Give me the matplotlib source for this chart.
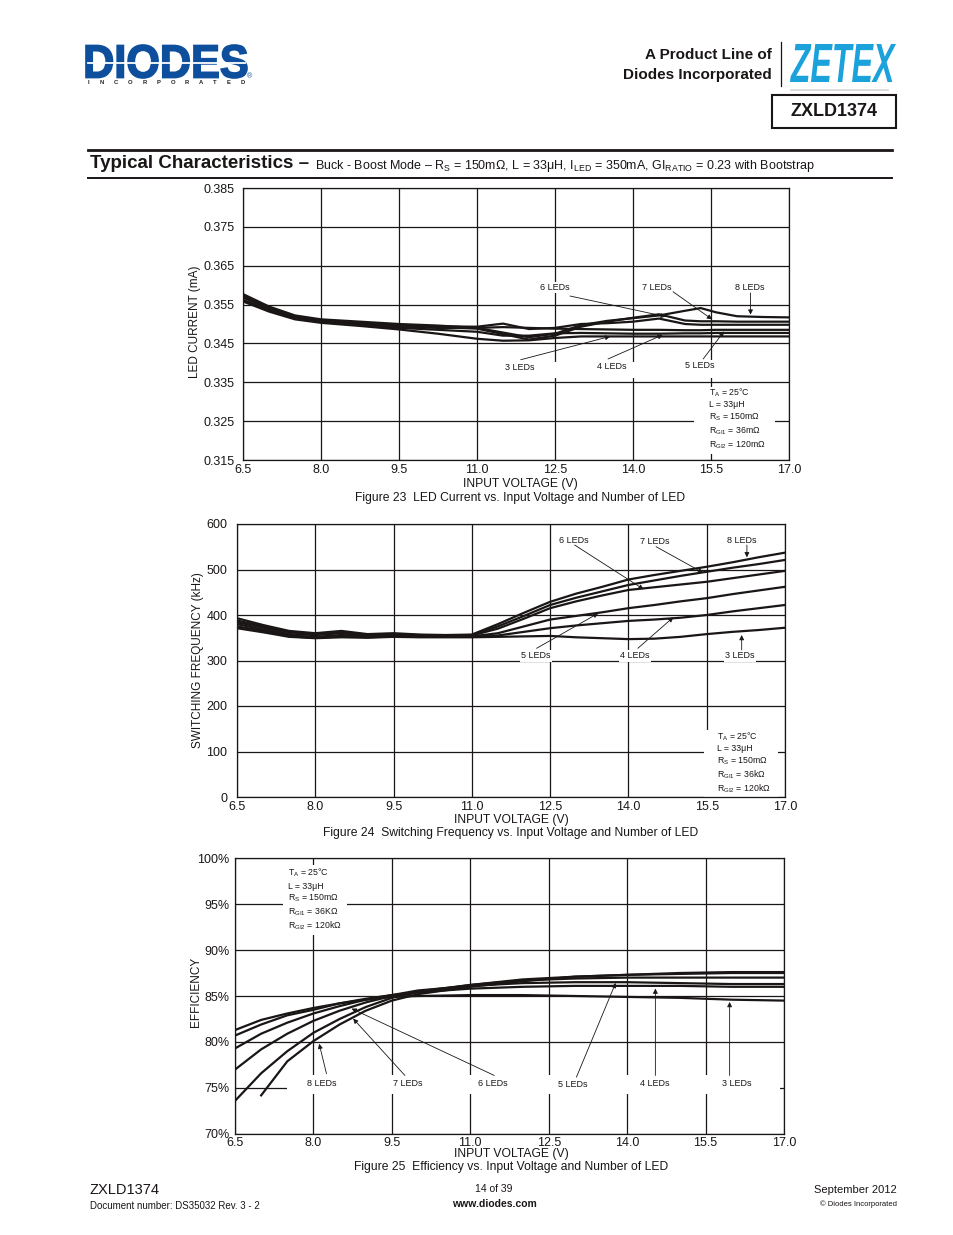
import numpy as np
import matplotlib
matplotlib.use("Agg")
import matplotlib.pyplot as plt
from matplotlib.patches import Rectangle, PathPatch
from matplotlib.textpath import TextPath
from matplotlib.font_manager import FontProperties
from matplotlib.transforms import Affine2D

plt.rcParams['font.family'] = ['Liberation Sans', 'DejaVu Sans']
plt.rcParams['mathtext.fontset'] = 'custom'
plt.rcParams['mathtext.rm'] = 'Liberation Sans'
plt.rcParams['mathtext.it'] = 'Liberation Sans:italic'
plt.rcParams['mathtext.bf'] = 'Liberation Sans:bold'

W, H = 954, 1235

# -----------------------------
# data
# -----------------------------
volt_ticks = [6.5, 8.0, 9.5, 11.0, 12.5, 14.0, 15.5, 17.0]
volt_labels = ["6.5", "8.0", "9.5", "11.0", "12.5", "14.0", "15.5", "17.0"]
led_names = ["3 LEDs", "4 LEDs", "5 LEDs", "6 LEDs", "7 LEDs", "8 LEDs"]

# Figure 23 - LED current
x_c1 = [6.5, 7.0, 7.5, 8.0, 8.75, 9.5, 10.25, 11.0, 11.5, 12.0, 12.5, 13.0, 13.5,
        14.0, 14.5, 15.0, 15.3, 15.6, 16.0, 16.5, 17.0]
cur_3 = [0.3558, 0.3532, 0.3512, 0.3503, 0.3495, 0.3486, 0.3475, 0.3462, 0.3457, 0.3458, 0.3464,
         0.3468, 0.3468, 0.3468, 0.3468, 0.3468, 0.3468, 0.3468, 0.3468, 0.3468, 0.3468]
cur_4 = [0.3560, 0.3535, 0.3514, 0.3505, 0.3498, 0.3490, 0.3485, 0.3480, 0.3470, 0.3470, 0.3476,
         0.3477, 0.3476, 0.3475, 0.3475, 0.3476, 0.3476, 0.3477, 0.3477, 0.3477, 0.3477]
cur_5 = [0.3562, 0.3537, 0.3516, 0.3506, 0.3500, 0.3492, 0.3490, 0.3490, 0.3492, 0.3490, 0.3488,
         0.3487, 0.3486, 0.3485, 0.3485, 0.3484, 0.3484, 0.3485, 0.3485, 0.3485, 0.3485]
cur_6 = [0.3568, 0.3540, 0.3518, 0.3508, 0.3502, 0.3496, 0.3494, 0.3493, 0.3501, 0.3487, 0.3490,
         0.3500, 0.3502, 0.3506, 0.3514, 0.3500, 0.3498, 0.3498, 0.3498, 0.3498, 0.3498]
cur_7 = [0.3572, 0.3542, 0.3520, 0.3510, 0.3503, 0.3497, 0.3492, 0.3488, 0.3474, 0.3460, 0.3470,
         0.3493, 0.3506, 0.3516, 0.3525, 0.3509, 0.3507, 0.3507, 0.3506, 0.3506, 0.3506]
cur_8 = [0.3577, 0.3545, 0.3522, 0.3512, 0.3506, 0.3500, 0.3496, 0.3490, 0.3478, 0.3466, 0.3475,
         0.3497, 0.3508, 0.3515, 0.3522, 0.3534, 0.3541, 0.3530, 0.3520, 0.3518, 0.3517]
cur_ticks = [0.315, 0.325, 0.335, 0.345, 0.355, 0.365, 0.375, 0.385]

# Figure 24 - switching frequency (kHz)
x_c2 = [6.5, 7.0, 7.5, 8.0, 8.5, 9.0, 9.5, 10.0, 10.5, 11.0, 11.5, 12.0, 12.5, 13.0,
        13.5, 14.0, 14.5, 15.0, 15.5, 16.0, 16.5, 17.0]
freq_3 = [371, 362, 352, 349, 351, 350, 352, 351, 351, 351, 352, 353, 354, 351, 349, 347, 348, 352, 358, 363, 367, 372]
freq_4 = [375, 365, 353, 350, 353, 351, 353, 352, 352, 352, 355, 363, 371, 377, 382, 387, 390, 394, 400, 408, 415, 422]
freq_5 = [380, 368, 355, 352, 356, 353, 355, 353, 353, 353, 360, 375, 390, 398, 406, 415, 422, 430, 437, 446, 454, 462]
freq_6 = [384, 372, 358, 356, 360, 355, 357, 355, 355, 355, 370, 392, 415, 430, 443, 455, 461, 467, 473, 481, 489, 497]
freq_7 = [388, 375, 362, 358, 362, 357, 358, 356, 355, 356, 375, 398, 422, 438, 452, 466, 476, 486, 495, 504, 512, 521]
freq_8 = [393, 378, 365, 360, 365, 358, 360, 357, 356, 357, 380, 405, 429, 447, 462, 478, 488, 497, 506, 516, 527, 537]
freq_ticks = [0, 100, 200, 300, 400, 500, 600]

# Figure 25 - efficiency (%)
x_c3 = [6.5, 7.0, 7.5, 8.0, 8.5, 9.0, 9.5, 10.0, 11.0, 12.0, 13.0, 14.0, 15.0, 16.0, 17.0]
eff_3 = [81.3, 82.4, 83.1, 83.7, 84.2, 84.6, 84.9, 85.0, 85.1, 85.1, 85.0, 84.9, 84.8, 84.6, 84.5]
eff_4 = [80.7, 81.9, 82.9, 83.5, 84.2, 84.7, 85.1, 85.4, 85.8, 86.0, 86.1, 86.1, 86.1, 86.0, 86.0]
eff_5 = [79.3, 80.9, 82.1, 83.1, 83.9, 84.6, 85.1, 85.6, 86.1, 86.4, 86.5, 86.5, 86.4, 86.3, 86.3]
eff_6 = [77.0, 79.2, 80.9, 82.3, 83.4, 84.3, 85.0, 85.5, 86.2, 86.7, 86.9, 87.0, 87.0, 87.0, 87.0]
eff_7 = [73.6, 76.6, 79.0, 81.0, 82.5, 83.8, 84.8, 85.4, 86.2, 86.8, 87.1, 87.3, 87.4, 87.5, 87.5]
eff_8 = [np.nan, 74.2, 77.9, 80.1, 81.9, 83.4, 84.5, 85.2, 86.0, 86.6, 87.1, 87.3, 87.5, 87.6, 87.6]
eff_ticks = [70, 75, 80, 85, 90, 95, 100]

# -----------------------------
# helpers
# -----------------------------
fig = plt.figure(figsize=(W / 100, H / 100), dpi=100)
ink = "#1a1616"


def axes_px(x0, y0, x1, y1):
    return fig.add_axes([x0 / W, 1 - y1 / H, (x1 - x0) / W, (y1 - y0) / H])


def setup(ax, ylim, yticks, ylabels, ypad):
    ax.set_xlim(6.5, 17.0)
    ax.set_ylim(*ylim)
    ax.set_xticks(volt_ticks)
    ax.set_xticklabels(volt_labels)
    ax.set_yticks(yticks)
    ax.set_yticklabels(ylabels)
    ax.tick_params(length=0, labelsize=9, colors=ink)
    ax.tick_params(axis="y", pad=ypad)
    ax.tick_params(axis="x", pad=3)
    ax.grid(True, color=ink, lw=0.9)
    ax.set_axisbelow(True)
    for s in ax.spines.values():
        s.set_linewidth(0.9)
        s.set_color(ink)


def blank(ax, x0, x1, y0, y1):
    ax.add_patch(Rectangle((x0, y0), x1 - x0, y1 - y0, facecolor="white",
                           edgecolor="none", zorder=1))


def tag(ax, text, pos, tail=None, tip=None):
    ax.text(pos[0], pos[1], text, ha="center", va="center", fontsize=6.5, color=ink,
            zorder=3, bbox=dict(facecolor="white", edgecolor="none", pad=0.8))
    if tip is not None:
        ax.annotate("", xy=tip, xytext=tail, zorder=3,
                    arrowprops=dict(arrowstyle="-|>", color=ink, lw=0.6,
                                    mutation_scale=7, shrinkA=0, shrinkB=0))


def conditions(ax, x, ys, rgi):
    lines = [r"T$_\mathregular{A}$ = 25°C", "L = 33μH", r"R$_\mathregular{S}$ = 150mΩ",
             r"R$_\mathregular{GI1}$ = " + rgi[0], r"R$_\mathregular{GI2}$ = " + rgi[1]]
    for s, y in zip(lines, ys):
        ax.text(x, y, s, ha="left", va="center", fontsize=6.3, color=ink, zorder=3)


# -----------------------------
# Figure 23
# -----------------------------
ax1 = axes_px(243, 188, 789, 460)
setup(ax1, (0.315, 0.385), cur_ticks, [f"{v:.3f}" for v in cur_ticks], 6)
for ys in [cur_3, cur_4, cur_5, cur_6, cur_7, cur_8]:
    ax1.plot(x_c1, ys, color=ink, lw=1.6, zorder=2)
blank(ax1, 12.2, 16.0, 0.33616, 0.34027)
blank(ax1, 15.17, 16.73, 0.3166, 0.3338)
tag(ax1, "6 LEDs", (12.50, 0.3593), (12.79, 0.3572), (14.63, 0.3519))
tag(ax1, "7 LEDs", (14.46, 0.3593), (14.77, 0.3583), (15.52, 0.3512))
tag(ax1, "8 LEDs", (16.25, 0.3595), (16.26, 0.3580), (16.26, 0.3524))
tag(ax1, "3 LEDs", (11.83, 0.3387), (11.84, 0.3408), (13.56, 0.3468))
tag(ax1, "4 LEDs", (13.60, 0.3390), (13.52, 0.3410), (14.57, 0.3472))
tag(ax1, "5 LEDs", (15.29, 0.3392), (15.35, 0.3410), (15.75, 0.3481))
conditions(ax1, 15.46, [0.3323, 0.3292, 0.3261, 0.3225, 0.3189], ["36mΩ", "120mΩ"])

# -----------------------------
# Figure 24
# -----------------------------
ax2 = axes_px(237, 524, 785, 797)
setup(ax2, (0, 600), freq_ticks, [str(v) for v in freq_ticks], 7)
for ys in [freq_3, freq_4, freq_5, freq_6, freq_7, freq_8]:
    ax2.plot(x_c2, ys, color=ink, lw=1.6, zorder=2)
blank(ax2, 15.45, 16.86, 0, 147)
tag(ax2, "6 LEDs", (12.96, 564.8), (12.97, 553.8), (14.29, 456.5))
tag(ax2, "7 LEDs", (14.51, 562.6), (14.53, 550.1), (15.43, 493.0))
tag(ax2, "8 LEDs", (16.17, 564.8), (16.27, 553.8), (16.27, 526.8))
tag(ax2, "5 LEDs", (12.23, 309.9), (12.24, 326.8), (13.42, 403.7))
tag(ax2, "4 LEDs", (14.12, 309.9), (14.18, 326.8), (14.86, 394.9))
tag(ax2, "3 LEDs", (16.14, 309.9), (16.17, 323.1), (16.17, 356.0))
conditions(ax2, 15.70, [131.8, 105.5, 79.1, 48.3, 17.6], ["36kΩ", "120kΩ"])

# -----------------------------
# Figure 25
# -----------------------------
ax3 = axes_px(235, 858, 784, 1134)
setup(ax3, (70, 100), eff_ticks, [f"{v}%" for v in eff_ticks], 4)
ax3.tick_params(axis="x", pad=2)
for ys in [eff_3, eff_4, eff_5, eff_6, eff_7, eff_8]:
    ax3.plot(x_c3, ys, color=ink, lw=1.6, zorder=2)
blank(ax3, 7.49, 16.92, 74.3, 76.4)
blank(ax3, 7.42, 8.64, 91.6, 99.2)
tag(ax3, "8 LEDs", (8.16, 75.49), (8.25, 76.55), (8.11, 79.81))
tag(ax3, "7 LEDs", (9.81, 75.49), (9.75, 76.36), (8.76, 82.54))
tag(ax3, "6 LEDs", (11.43, 75.49), (11.46, 76.36), (8.73, 83.63))
tag(ax3, "5 LEDs", (12.96, 75.38), (13.03, 76.18), (13.78, 86.42))
tag(ax3, "4 LEDs", (14.53, 75.49), (14.54, 76.36), (14.54, 85.81))
tag(ax3, "3 LEDs", (16.10, 75.49), (15.96, 76.36), (15.96, 84.35))
conditions(ax3, 7.51, [98.37, 96.95, 95.64, 94.12, 92.59], ["36KΩ", "120kΩ"])

# -----------------------------
# page overlay (pixel coordinates)
# -----------------------------
pg = fig.add_axes([0, 0, 1, 1])
pg.set_xlim(0, W)
pg.set_ylim(H, 0)
pg.axis("off")


def logo(s, box, color, style="normal", stroke=0.0):
    x0, y0, x1, y1 = box
    tp = TextPath((0, 0), s, size=100,
                  prop=FontProperties(family="Liberation Sans", weight="bold", style=style))
    ext = tp.get_extents()
    tr = Affine2D().translate(-ext.x0, -ext.y0).scale((x1 - x0) / ext.width,
                                                      -(y1 - y0) / ext.height).translate(x0, y1)
    pg.add_patch(PathPatch(tr.transform_path(tp), facecolor=color, edgecolor=color, lw=stroke))


# header
logo("DIODES", (86, 45, 247, 78), "#0d4f9c", stroke=1.2)
pg.plot([88, 245], [62.5, 62.5], color="white", lw=1.3)
for i, ch in enumerate("INCORPORATED"):
    pg.text(88 + i * 14.1, 83, ch, fontsize=4.2, weight="bold", color="#222222",
            ha="center", va="center")
pg.text(250, 77, "®", fontsize=5, color="#0d4f9c", ha="center", va="center")
pg.text(772, 55, "A Product Line of", fontsize=11, weight="bold", ha="right", va="center", color=ink)
pg.text(772, 75, "Diodes Incorporated", fontsize=11, weight="bold", ha="right", va="center", color=ink)
pg.plot([781, 781], [42, 86], color=ink, lw=0.9)
logo("ZETEX", (790, 44, 896, 82), "#1ba2da", style="italic")
pg.plot([791, 888], [90, 90], color="#d4d4d4", lw=1.2)
pg.add_patch(Rectangle((772, 95), 124, 33, facecolor="none", edgecolor=ink, lw=1.5))
pg.text(834, 112, "ZXLD1374", fontsize=13, weight="bold", ha="center", va="center", color=ink)

# section title
pg.plot([88, 892], [150, 150], color=ink, lw=2.0)
pg.plot([88, 892], [177.5, 177.5], color=ink, lw=1.4)
pg.text(90, 164, "Typical Characteristics –", fontsize=13.5, weight="bold", ha="left",
        va="center", color=ink)
pg.text(315, 166, r"Buck - Boost Mode – R$_\mathregular{S}$ = 150mΩ, L = 33μH, I$_\mathregular{LED}$ = 350mA, "
        r"GI$_\mathregular{RATIO}$ = 0.23 with Bootstrap", fontsize=9, ha="left", va="center",
        color=ink)

# axis titles and captions
pg.text(195, 322, "LED CURRENT (mA)", rotation=90, fontsize=8.5, ha="center", va="center", color=ink)
pg.text(520, 484, "INPUT VOLTAGE (V)", fontsize=8.7, ha="center", va="center", color=ink)
pg.text(520, 498, "Figure 23  LED Current vs. Input Voltage and Number of LED", fontsize=8.7,
        ha="center", va="center", color=ink)
pg.text(198, 660, "SWITCHING FREQUENCY (kHz)", rotation=90, fontsize=8.5, ha="center", va="center", color=ink)
pg.text(511, 820, "INPUT VOLTAGE (V)", fontsize=8.7, ha="center", va="center", color=ink)
pg.text(511, 833, "Figure 24  Switching Frequency vs. Input Voltage and Number of LED", fontsize=8.7,
        ha="center", va="center", color=ink)
pg.text(196, 992, "EFFICIENCY", rotation=90, fontsize=8.5, ha="center", va="center", color=ink)
pg.text(511, 1154, "INPUT VOLTAGE (V)", fontsize=8.7, ha="center", va="center", color=ink)
pg.text(511, 1167, "Figure 25  Efficiency vs. Input Voltage and Number of LED", fontsize=8.7,
        ha="center", va="center", color=ink)

# footer
pg.text(90, 1190, "ZXLD1374", fontsize=10.5, ha="left", va="center", color=ink)
pg.text(90, 1206, "Document number: DS35032 Rev. 3 - 2", fontsize=7, ha="left", va="center", color=ink)
pg.text(494, 1189, "14 of 39", fontsize=7.5, ha="center", va="center", color=ink)
pg.text(494, 1204, "www.diodes.com", fontsize=7.5, weight="bold", ha="center", va="center", color=ink)
pg.text(897, 1190, "September 2012", fontsize=8, ha="right", va="center", color=ink)
pg.text(897, 1204, "© Diodes Incorporated", fontsize=5.5, ha="right", va="center", color=ink)

fig.savefig("out.png", dpi=100)
